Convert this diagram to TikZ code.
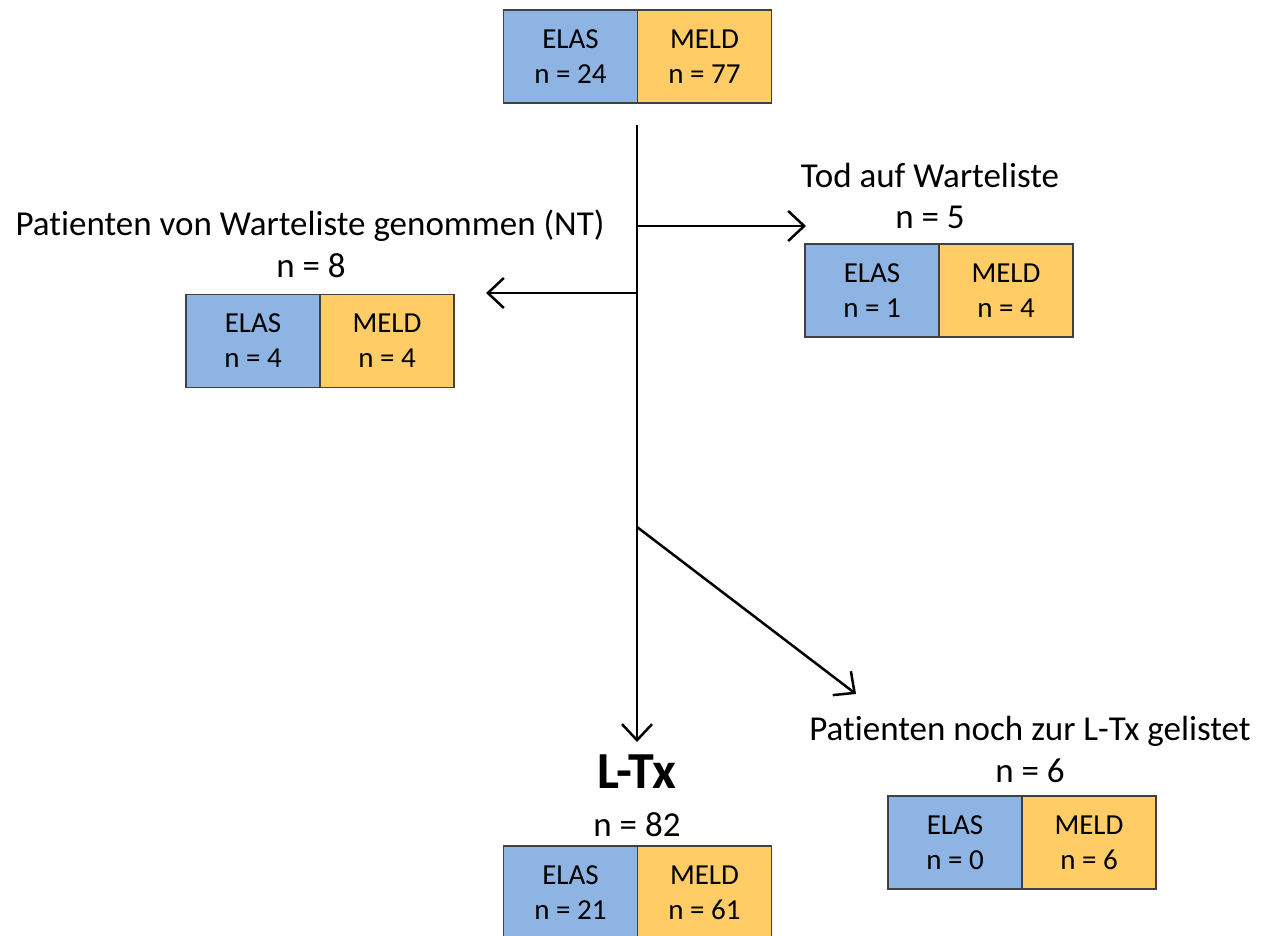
\documentclass[tikz,border=0pt]{standalone}
\usepackage{fontspec}
\setmainfont{Carlito}[Ligatures={NoCommon}, RawFeature={-clig;-calt}]
\usetikzlibrary{arrows.meta}
\definecolor{elasblue}{HTML}{8DB4E2}
\definecolor{meldorange}{HTML}{FFCC66}
\definecolor{boxline}{HTML}{404040}
\tikzset{
  half/.style={draw=boxline, line width=1.2pt, minimum width=134pt, minimum height=93pt,
    inner sep=0pt, align=center, font=\fontsize{29}{35}\selectfont},
  elas/.style={half, fill=elasblue},
  meld/.style={half, fill=meldorange},
  lbl/.style={font=\fontsize{35}{40}\selectfont, inner sep=0pt, anchor=base},
  flow/.style={line width=2.5pt, -{Straight Barb[length=16pt, width=30pt, line width=2.5pt]}},
}
\begin{document}
\begin{tikzpicture}[x=1pt, y=-1pt]
\useasboundingbox (0,0) rectangle (1270,936);
% top box
\node[elas] (topE) at (570.5,56.5) {ELAS\\n = 24};
\node[meld] (topM) at (704.5,56.5) {MELD\\n = 77};
% Tod box
\node[elas] (todE) at (872,290.5) {ELAS\\n = 1};
\node[meld] (todM) at (1006,290.5) {MELD\\n = 4};
% NT box
\node[elas] (ntE) at (253,341) {ELAS\\n = 4};
\node[meld] (ntM) at (387,341) {MELD\\n = 4};
% noch gelistet box
\node[elas] (glE) at (955,842.5) {ELAS\\n = 0};
\node[meld] (glM) at (1089,842.5) {MELD\\n = 6};
% L-Tx box
\node[elas] (txE) at (570.5,892.5) {ELAS\\n = 21};
\node[meld] (txM) at (704.5,892.5) {MELD\\n = 61};
% labels
\node[lbl] (todL) at (930,188) {Tod auf Warteliste};
\node[lbl] (todN) at (930,229) {n = 5};
\node[lbl] (ntL) at (310,236) {Patienten von Warteliste genommen (NT)};
\node[lbl] (ntN) at (311,278) {n = 8};
\node[lbl] (glL) at (1030,740) {Patienten noch zur L-Tx gelistet};
\node[lbl] (glN) at (1030,782) {n = 6};
\node[lbl, font=\fontsize{52}{60}\selectfont\bfseries] (txL) at (637,788) {L-Tx};
\node[lbl] (txN) at (637,836) {n = 82};
% connectors
\coordinate (vtop) at (637,125);
\coordinate (vbot) at (637,742);
\coordinate (b1) at (637,226);
\coordinate (b2) at (637,293);
\coordinate (b3) at (637,527);
\coordinate (e1) at (806,226);
\coordinate (e2) at (486,293);
\coordinate (e3) at (856,694);
\draw[flow] (vtop) -- (vbot);
\draw[flow] (b1) -- (e1);
\draw[flow] (b2) -- (e2);
\draw[flow] (b3) -- (e3);
\end{tikzpicture}
\end{document}
